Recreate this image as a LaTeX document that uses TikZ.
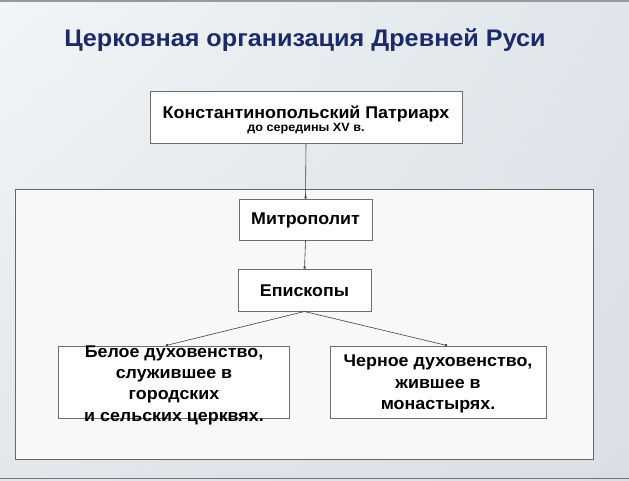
\documentclass[tikz,border=0pt]{standalone}
\usepackage{fontspec}
\setmainfont{Liberation Sans}[FakeStretch=1.05]
\usetikzlibrary{arrows.meta,shadings}
\definecolor{titleblue}{HTML}{1B2B68}
\definecolor{bgUL}{HTML}{F2F5F7}
\definecolor{bgUR}{HTML}{DFE5EA}
\definecolor{bgLL}{HTML}{E2E7EC}
\definecolor{bgLR}{HTML}{D9DFE5}
\definecolor{framefill}{HTML}{F8F8F8}
\definecolor{boxline}{HTML}{6E6E6E}
\tikzset{
  boxnode/.style={draw=boxline, line width=1pt, fill=white, inner sep=0pt, align=center},
  boxtext/.style={font=\fontsize{17}{21.3}\selectfont\bfseries, align=center, inner sep=0pt},
  conn/.style={draw=black!75, line width=0.6pt, -{Square[length=2pt,width=2pt]}},
}
\begin{document}
\begin{tikzpicture}[x=1pt,y=-1pt]
\useasboundingbox (0,0) rectangle (629,480);
% background
\shade[upper left=bgUL, upper right=bgUR, lower left=bgLL, lower right=bgLR] (0,0) rectangle (629,480);
\draw[gray!80, line width=1.5pt] (0,0.75) -- (629,0.75);
\draw[gray!90!black, line width=1.5pt] (0,478.5) -- (629,478.5);
% inner frame
\node[draw=gray!80!black, line width=0.8pt, fill=framefill, minimum width=578pt, minimum height=270pt, inner sep=0pt] (frame) at (304,324) {};
% title
\node[font=\fontsize{24}{28}\selectfont\bfseries, text=titleblue, inner sep=0pt] (title) at (305,40) {Церковная организация Древней Руси};
% boxes
\node[boxnode, minimum width=312pt, minimum height=52pt] (patr) at (306,117) {};
\node[inner sep=0pt, align=center] (patrtext) at (306,119.5) {{\fontsize{17}{18}\selectfont\bfseries Константинопольский Патриарх}\\[1pt]{\fontsize{12}{13}\selectfont\bfseries до середины XV в.}};
\node[boxnode, minimum width=133pt, minimum height=41pt] (metr) at (305.5,219.5) {};
\node[boxtext] (metrtext) at (305.5,220) {Митрополит};
\node[boxnode, minimum width=133pt, minimum height=42pt] (episc) at (304.5,290) {};
\node[boxtext] (episctext) at (304.5,291) {Епископы};
\node[boxnode, minimum width=231pt, minimum height=72pt] (white) at (173.5,382) {};
\node[boxnode, minimum width=216pt, minimum height=72pt] (black) at (438,382) {};
% connectors
\draw[conn] (patr.south) -- (metr.north);
\draw[conn] (metr.south) -- (episc.north);
\draw[conn] (episc.south) -- ([xshift=-7.5pt]white.north);
\draw[conn] (episc.south) -- ([xshift=9pt]black.north);
% box texts
\node[boxtext] (whitetext) at (174,385) {Белое духовенство,\\служившее в\\городских\\и сельских церквях.};
\node[boxtext] (blacktext) at (438,384) {Черное духовенство,\\жившее в\\монастырях.};
\end{tikzpicture}
\end{document}
